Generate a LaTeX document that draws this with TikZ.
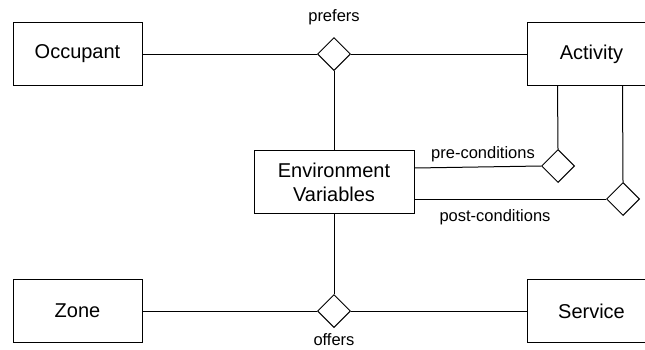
\documentclass[tikz,border=0pt]{standalone}
\usepackage{fontspec}
\setmainfont{Liberation Sans}
\usetikzlibrary{shapes.geometric,calc}
\begin{document}
\begin{tikzpicture}[x=1pt,y=-1pt,
  ent/.style={draw,line width=1pt,minimum width=129pt,minimum height=63pt,inner sep=0pt,font=\fontsize{20}{24}\selectfont,align=center},
  rel/.style={draw,diamond,aspect=1,minimum size=33pt,inner sep=0pt,line width=1pt,fill=white},
  lbl/.style={font=\fontsize{16.5}{19}\selectfont,inner sep=0pt},
  conn/.style={line width=1pt}]
\useasboundingbox (0,0) rectangle (645,349);
\clip (0,0) rectangle (645,349);
\node[ent] (occ) at (77.5,54) {Occupant};
\node[ent] (act) at (591.5,54) {Activity};
\node[ent,minimum width=160pt] (env) at (334,182) {Environment\\Variables};
\node[ent] (zone) at (77.5,311) {Zone};
\node[ent] (serv) at (591.5,311) {Service};
\node[rel] (pref) at (334,54) {};
\node[rel] (pre) at (558,166) {};
\node[rel] (post) at (623,199) {};
\node[rel] (off) at (334,311) {};
\node[lbl] (lpref) at (334,17) {prefers};
\node[lbl] (lpre) at (483,154) {pre-conditions};
\node[lbl] (lpost) at (495,217) {post-conditions};
\node[lbl] (loff) at (334,340) {offers};
\draw[conn] (occ.east) -- (pref.west);
\draw[conn] (pref.east) -- (act.west);
\draw[conn] (pref.south) -- (env.north);
\draw[conn] (env.south) -- (off.north);
\draw[conn] (zone.east) -- (off.west);
\draw[conn] (off.east) -- (serv.west);
\draw[conn] ([xshift=31pt]act.south west) -- (pre.north);
\draw[conn] ([xshift=96pt]act.south west) -- (post.north);
\draw[conn] ([yshift=-18pt]env.north east) -- (pre.west);
\draw[conn] ([yshift=15pt]env.south east) -- (post.west);
\end{tikzpicture}
\end{document}
